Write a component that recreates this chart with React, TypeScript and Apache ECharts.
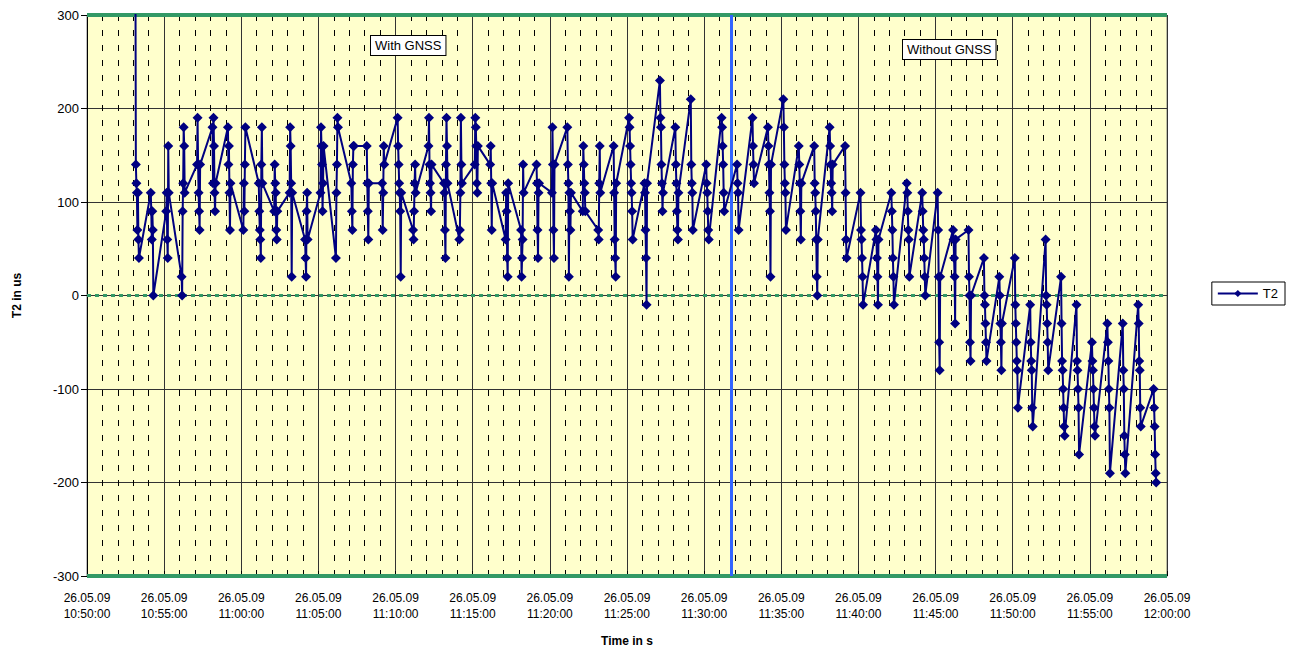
import React, { useEffect, useRef } from "react";
import * as echarts from "echarts";

// minutes after 10:50:00 at which each burst of samples starts
const clusterMinutes = [
  3, 4, 5, 6, 7, 8, 9, 10, 11, 12, 13, 14, 15, 16, 17, 18, 19, 20, 21, 22, 23, 24, 25, 26, 27, 28, 29, 30,
  31, 32, 33, 34, 35, 36, 37, 38, 39, 40, 41, 42, 43, 44, 45, 46, 47, 48, 49, 50, 51, 52, 53, 54, 55, 56,
  57, 58, 59, 60, 61, 62, 63, 64, 65, 66, 67, 68, 69,
];
// seconds after the minute of each sample inside a burst
const sampleSeconds = [8, 10, 12, 14, 16, 18, 20, 22];
// T2 values (us) per burst
const clusterValues: number[][] = [
  [400, 140, 120, 110, 70, 110, 60, 40],
  [110, 90, 60, 90, 70, 0],
  [90, 110, 60, 40, 160, 110],
  [20, 0, 90, 120, 180, 160, 110],
  [140, 190, 140, 110, 90, 70, 140],
  [180, 120, 190, 160, 110, 90, 120],
  [180, 140, 160, 110, 70, 120],
  [70, 120, 90, 140, 180],
  [120, 90, 70, 60, 40, 140, 180, 120],
  [90, 140, 120, 110, 70, 60, 90],
  [110, 180, 160, 120, 20, 110],
  [60, 40, 20, 90, 110, 60],
  [110, 180, 160, 140, 90, 120, 160],
  [40, 110, 140, 190, 180],
  [120, 90, 70, 140, 160, 160],
  [160, 120, 90, 60, 120],
  [120, 70, 110, 160, 140],
  [190, 160, 140, 120, 110, 90, 20, 110],
  [70, 60, 90, 120, 140, 110],
  [160, 190, 140, 120, 110, 90, 140],
  [120, 110, 70, 40, 140, 190, 160, 120],
  [60, 70, 110, 190, 140, 120],
  [140, 190, 180, 160, 120, 110, 160],
  [140, 160, 120, 70, 120],
  [60, 110, 90, 40, 20, 120],
  [70, 20, 40, 60, 140, 110],
  [140, 120, 70, 40, 110, 120],
  [110, 180, 140, 70, 40, 140],
  [180, 140, 120, 20, 110, 90, 70, 110],
  [90, 160, 140, 120, 110, 90],
  [70, 60, 120, 160, 110],
  [160, 110, 60, 40, 20, 120],
  [190, 180, 160, 140, 120, 110, 90, 60],
  [120, 110, 70, 40, -10, 120],
  [230, 190, 180, 140, 120, 90, 110],
  [180, 140, 120, 90, 70, 60, 110],
  [210, 140, 120, 110, 70],
  [140, 120, 110, 90, 70, 60],
  [190, 180, 160, 140, 110, 90],
  [140, 120, 110, 70],
  [190, 160, 140, 120],
  [180, 160, 140, 110, 90, 20, 140],
  [210, 180, 140, 120, 110, 70],
  [160, 140, 120, 90, 60, 120],
  [160, 120, 110, 90, 60, 20, 0, 60],
  [180, 160, 140, 120, 110, 90, 140],
  [160, 110, 60, 40],
  [110, 70, 60, 40, 20, -10],
  [70, 60, 40, 20, -10, 60],
  [110, 90, 70, 40, 20, -10],
  [120, 110, 90, 70, 60, 20],
  [110, 90, 70, 60, 40, 20, 0],
  [110, 70, 20, -50, -80, 20],
  [70, 60, 40, 20, -30, 60],
  [70, 20, 0, -50, -70, 0],
  [40, 0, -10, -30, -50, -70],
  [20, 0, -30, -50, -80, -30],
  [40, -10, -30, -50, -70, -80, -120],
  [-10, -50, -70, -80, -120, -140],
  [60, 0, -10, -30, -50, -80],
  [20, -30, -70, -80, -100, -120, -140, -150],
  [-10, -70, -80, -100, -120, -170],
  [-50, -70, -80, -100, -120, -140, -150],
  [-30, -50, -70, -100, -120, -190],
  [-30, -80, -100, -150, -170, -190],
  [-10, -30, -70, -80, -120, -140],
  [-100, -120, -140, -170, -190, -200],
];
// GNSS switched off (minutes after 10:50:00)
const gnssOffMinute = 41.75;
const yTicks = [-300, -200, -100, 0, 100, 200, 300];
const xMin = 0;
const xMax = 70;
const dateLabel = "26.05.09";

const FONT = "Liberation Sans, Arial, sans-serif";

function fmtTime(m: number): string {
  const total = 10 * 60 + 50 + Math.round(m);
  const h = Math.floor(total / 60);
  const mm = total % 60;
  return `${String(h).padStart(2, "0")}:${String(mm).padStart(2, "0")}:00`;
}

export default function App() {
  const ref = useRef<HTMLDivElement>(null);
  useEffect(() => {
    if (!ref.current) return;
    const chart = echarts.init(ref.current, undefined, { renderer: "svg" });
    const points: [number, number][] = [];
    clusterMinutes.forEach((m, i) => {
      clusterValues[i].forEach((v, j) => {
        points.push([m + sampleSeconds[j] / 60, v]);
      });
    });
    const green = "#339966";
    chart.setOption({
      animation: false,
      textStyle: { fontFamily: FONT },
      grid: {
        left: 87,
        right: 123,
        top: 15,
        bottom: 79,
        show: true,
        backgroundColor: "#FFFFCC",
        borderColor: "#808080",
        borderWidth: 1,
      },
      legend: {
        right: 5,
        top: 282,
        orient: "vertical",
        borderColor: "#000",
        borderWidth: 1,
        padding: [5, 7, 5, 5],
        itemWidth: 40,
        itemHeight: 9,
        itemGap: 4,
        textStyle: { fontFamily: FONT, fontSize: 13, color: "#000" },
        data: ["T2"],
      },
      xAxis: {
        type: "value",
        min: xMin,
        max: xMax,
        interval: 5,
        name: "Time in s",
        nameLocation: "middle",
        nameGap: 59,
        nameTextStyle: { fontFamily: FONT, fontSize: 12, fontWeight: "bold", color: "#000" },
        axisLine: { show: true, onZero: false, lineStyle: { color: "#808080" } },
        axisTick: { show: true, inside: true, length: 5, lineStyle: { color: "#000" } },
        minorTick: { show: true, splitNumber: 5, length: 5, lineStyle: { color: "#000" } },
        axisLabel: {
          fontFamily: FONT,
          fontSize: 12,
          color: "#000",
          lineHeight: 16,
          margin: 14,
          formatter: (v: number) => `${dateLabel}\n${fmtTime(v)}`,
        },
        splitLine: { show: true, lineStyle: { color: "#333", width: 1 } },
        minorSplitLine: { show: true, lineStyle: { color: "#000", width: 1, type: [6, 9] } },
      },
      yAxis: {
        type: "value",
        min: yTicks[0],
        max: yTicks[yTicks.length - 1],
        interval: 100,
        name: "T2 in us",
        nameLocation: "middle",
        nameGap: 64,
        nameRotate: 90,
        nameTextStyle: { fontFamily: FONT, fontSize: 12, fontWeight: "bold", color: "#000" },
        axisLine: { show: true, onZero: false, lineStyle: { color: "#000" } },
        axisTick: { show: true, length: 6, lineStyle: { color: "#000" } },
        axisLabel: { fontFamily: FONT, fontSize: 13, color: "#000", margin: 8 },
        splitLine: { show: true, lineStyle: { color: "#333", width: 1 } },
      },
      series: [
        {
          name: "T2",
          type: "line",
          data: points,
          clip: true,
          symbol: "diamond",
          symbolSize: 10,
          showAllSymbol: true,
          lineStyle: { color: "#000080", width: 2 },
          itemStyle: { color: "#000080" },
          z: 5,
          markLine: {
            silent: true,
            symbol: "none",
            label: { show: false },
            data: [
              { yAxis: 300, lineStyle: { color: green, width: 4, type: "solid" } },
              { yAxis: -300, lineStyle: { color: green, width: 4, type: "solid" } },
              { yAxis: 0, lineStyle: { color: green, width: 3, type: [4, 4] } },
              { xAxis: gnssOffMinute, lineStyle: { color: "#3366FF", width: 3, type: "solid" } },
            ],
          },
        },
      ],
      graphic: [
        {
          type: "text",
          left: 370,
          top: 35,
          z: 10,
          style: {
            text: "With GNSS",
            fontFamily: FONT,
            fontSize: 13,
            fill: "#000",
            backgroundColor: "#fff",
            borderColor: "#000",
            borderWidth: 1,
            padding: [3, 4, 3, 4],
          },
        },
        {
          type: "text",
          left: 902,
          top: 39,
          z: 10,
          style: {
            text: "Without GNSS",
            fontFamily: FONT,
            fontSize: 13,
            fill: "#000",
            backgroundColor: "#fff",
            borderColor: "#000",
            borderWidth: 1,
            padding: [3, 4, 3, 4],
          },
        },
      ],
    });
    return () => chart.dispose();
  }, []);
  return (
    <div
      ref={ref}
      style={{ position: "fixed", left: 0, top: 0, width: 1290, height: 655, background: "#fff" }}
    />
  );
}
